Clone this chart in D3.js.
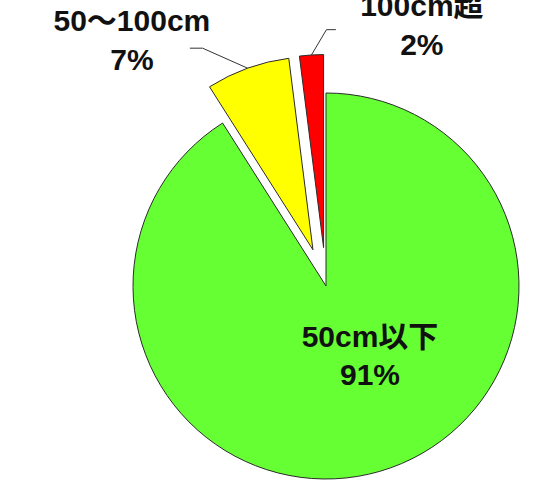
<!DOCTYPE html>
<html>
<head>
<meta charset="utf-8">
<script src="https://cdn.jsdelivr.net/npm/d3@7"></script>
<style>
  body { margin: 0; background: #fff; }
  svg { display: block; }
  text { font-family: "Liberation Sans", Arial, "Noto Sans CJK JP", sans-serif; font-weight: bold; fill: #111; }
</style>
</head>
<body>
<script>
// Share of measurements by height class
const categories = ["50cm以下", "50～100cm", "100cm超"];
const shares = [91, 7, 2];
const shareLabels = ["91%", "7%", "2%"];
const sliceColors = ["#66ff33", "#ffff00", "#ff0000"];

const width = 540, height = 485;
const cx = 326, cy = 286, radius = 193;
const fontSize = 30;

// how far each slice is pulled out from the centre
const explode = [0, 38.5, 38.5];

// callout layout: leader elbow relative to the arc midpoint, horizontal tail,
// then label centre / first baseline relative to the tail end
const callouts = [
  null,
  { elbow: [-45, -20], tail: -12.7, label: [-58, -17.5] },
  { elbow: [15, -25.3], tail: 9.4, label: [86, -14] }
];

const svg = d3.select("body").append("svg")
  .attr("width", width)
  .attr("height", height);

const rows = categories.map((c, i) => ({ name: c, value: shares[i], pct: shareLabels[i], color: sliceColors[i], i }));

const pie = d3.pie().sort(null).value(d => d.value);
const arc = d3.arc().innerRadius(0).outerRadius(radius);
const slices = pie(rows);

const root = svg.append("g").attr("transform", `translate(${cx},${cy})`);

function offsetOf(s) {
  const mid = (s.startAngle + s.endAngle) / 2;
  const e = explode[s.data.i];
  return [Math.sin(mid) * e, -Math.cos(mid) * e];
}

root.selectAll("path.slice")
  .data(slices)
  .join("path")
  .attr("class", "slice")
  .attr("transform", d => `translate(${offsetOf(d)})`)
  .attr("d", arc)
  .attr("fill", d => d.data.color)
  .attr("stroke", "#2b2b2b")
  .attr("stroke-width", 1)
  .attr("stroke-linejoin", "miter");

// leader lines and outside labels for the small slices
slices.forEach(s => {
  const c = callouts[s.data.i];
  if (!c) return;
  const mid = (s.startAngle + s.endAngle) / 2;
  const [ox, oy] = offsetOf(s);
  const p0 = [ox + Math.sin(mid) * radius, oy - Math.cos(mid) * radius];
  const p1 = [p0[0] + c.elbow[0], p0[1] + c.elbow[1]];
  const p2 = [p1[0] + c.tail, p1[1]];
  root.append("path")
    .attr("d", d3.line()([p0, p1, p2]))
    .attr("fill", "none")
    .attr("stroke", "#333")
    .attr("stroke-width", 1);
  const lx = p2[0] + c.label[0];
  const t = root.append("text")
    .attr("text-anchor", "middle")
    .attr("font-size", fontSize)
    .attr("y", p2[1] + c.label[1]);
  t.append("tspan").attr("x", lx).text(s.data.name);
  t.append("tspan").attr("x", lx).attr("dy", 39).text(s.data.pct);
});

// label inside the large slice
const big = slices[0];
const inner = root.append("text")
  .attr("text-anchor", "middle")
  .attr("font-size", fontSize)
  .attr("y", 60.7);
inner.append("tspan").attr("x", 44).text(big.data.name);
inner.append("tspan").attr("x", 44).attr("dy", 38.5).text(big.data.pct);
</script>
</body>
</html>
